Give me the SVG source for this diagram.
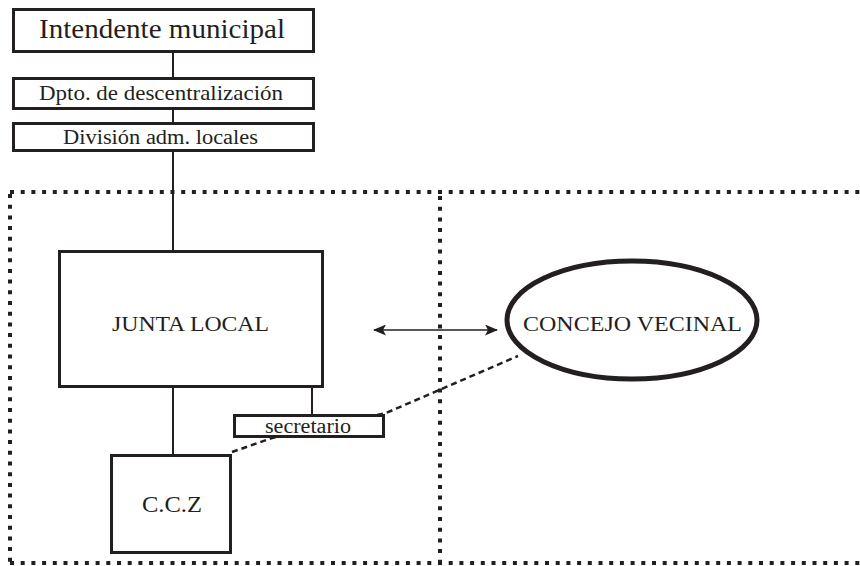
<svg xmlns="http://www.w3.org/2000/svg" width="860" height="566" viewBox="0 0 860 566">
<style>
.box{fill:#fff;stroke:#231f20;stroke-width:3}
.t{font-family:"Liberation Serif",serif;fill:#231f20;text-anchor:middle}
.ln{stroke:#231f20;stroke-width:2;fill:none}
.dot{stroke:#231f20;stroke-width:4;fill:none;stroke-dasharray:4 6.7}
.dash{stroke:#231f20;stroke-width:2.5;fill:none;stroke-dasharray:6 4}
</style>
<defs>
<marker id="ah" viewBox="0 0 13 11" refX="12" refY="5.5" markerWidth="13" markerHeight="11" markerUnits="userSpaceOnUse" orient="auto-start-reverse">
<path d="M0,0 L13,5.5 L0,11 L3,5.5 Z" fill="#231f20"/>
</marker>
</defs>
<rect width="860" height="566" fill="#fff"/>
<g id="frame">
<path class="dot" d="M10,192 H860 M10,194 V563 M10,563 H860 M440,196 V561"/>
</g>
<g id="connectors">
<path class="ln" d="M173,53 V250 M173,388 V454 M312,388 V414"/>
<path class="dash" d="M232,452 L272,438 L386,413 L518,356"/>
<line x1="374" y1="330" x2="497" y2="330" stroke="#231f20" stroke-width="1.5" marker-start="url(#ah)" marker-end="url(#ah)"/>
</g>
<g id="intendente">
<rect class="box" x="13.5" y="9.5" width="300" height="42"/>
<text class="t" x="162" y="38" font-size="27" textLength="246" lengthAdjust="spacingAndGlyphs">Intendente municipal</text>
</g>
<g id="dpto">
<rect class="box" x="13.5" y="78.5" width="300" height="30"/>
<text class="t" x="161" y="100" font-size="21" textLength="244" lengthAdjust="spacingAndGlyphs">Dpto. de descentralización</text>
</g>
<g id="division">
<rect class="box" x="13.5" y="123.5" width="300" height="27"/>
<text class="t" x="160.5" y="143.5" font-size="20" textLength="195" lengthAdjust="spacingAndGlyphs">División adm. locales</text>
</g>
<g id="junta">
<rect class="box" x="59.5" y="251.5" width="263" height="135"/>
<text class="t" x="190.5" y="331" font-size="22" textLength="157" lengthAdjust="spacingAndGlyphs">JUNTA LOCAL</text>
</g>
<g id="secretario">
<rect class="box" x="234.5" y="415.5" width="149" height="21"/>
<text class="t" x="308" y="433" font-size="20" textLength="86" lengthAdjust="spacingAndGlyphs">secretario</text>
</g>
<g id="ccz">
<rect class="box" x="111.5" y="455.5" width="119" height="97"/>
<text class="t" x="172" y="512" font-size="23" textLength="60" lengthAdjust="spacingAndGlyphs">C.C.Z</text>
</g>
<g id="concejo">
<ellipse cx="632" cy="320" rx="125" ry="59" fill="#fff" stroke="#231f20" stroke-width="5"/>
<text class="t" x="632.5" y="331" font-size="22" textLength="219" lengthAdjust="spacingAndGlyphs">CONCEJO VECINAL</text>
</g>
</svg>
